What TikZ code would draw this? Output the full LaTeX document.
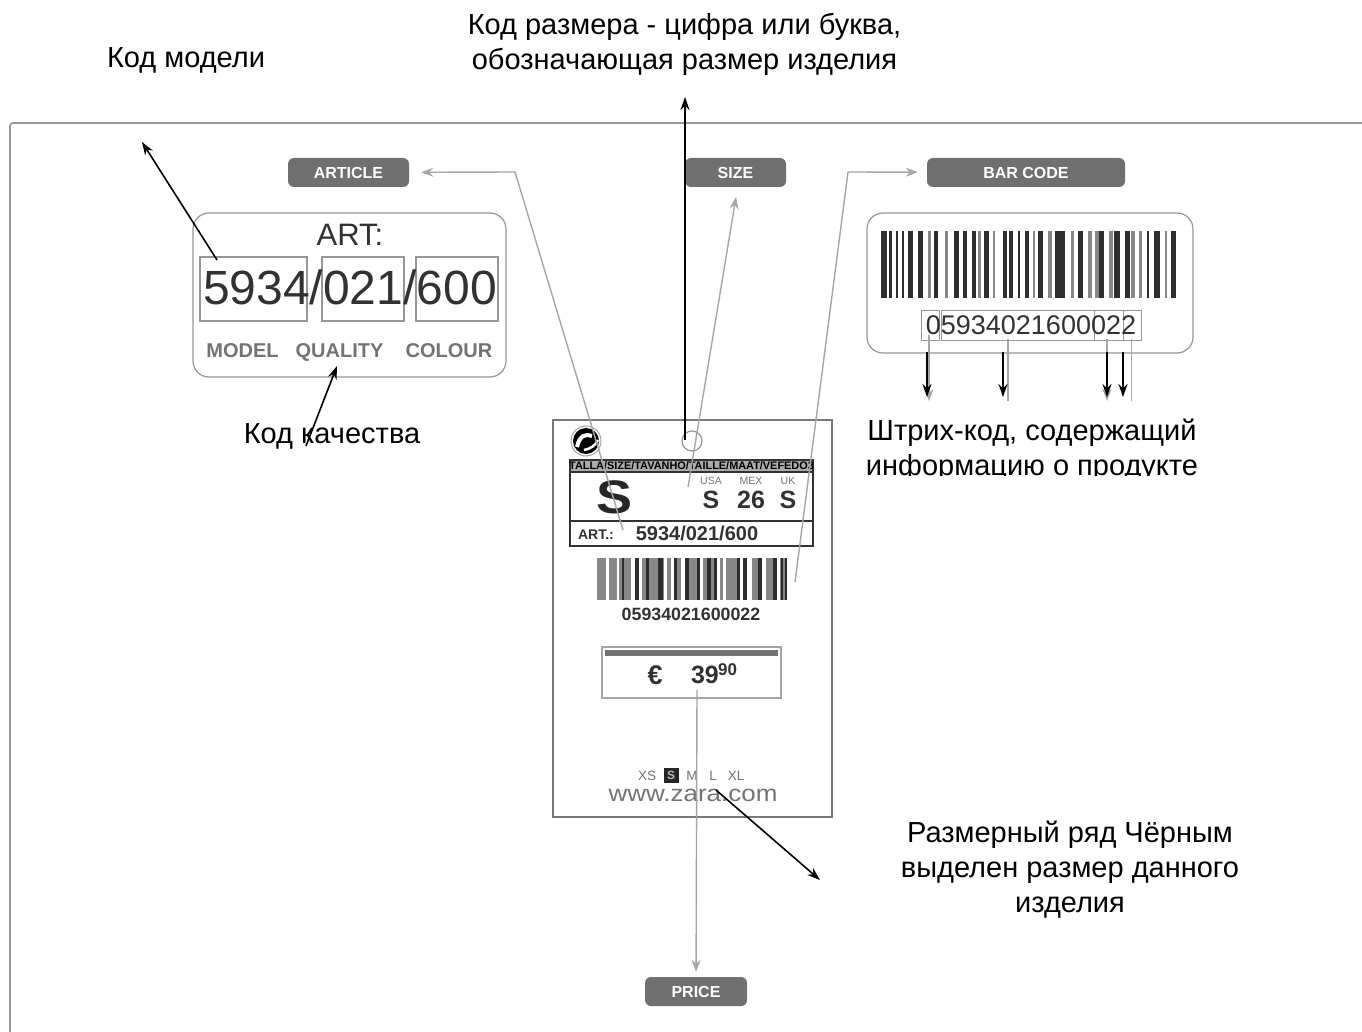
\documentclass[tikz,border=0pt]{standalone}
\usepackage{fontspec}
\setmainfont{Liberation Sans}
\usepackage{xcolor}
\usetikzlibrary{arrows.meta,positioning,calc}
\definecolor{PillGray}{RGB}{112,112,112}
\definecolor{LeadGray}{RGB}{165,165,165}
\definecolor{EdgeGray}{RGB}{150,150,150}
\definecolor{InkGray}{RGB}{50,50,50}
\definecolor{LabelGray}{RGB}{115,115,115}
\definecolor{BarGray}{RGB}{45,45,45}
\definecolor{BarMid}{RGB}{135,135,135}

\begin{document}
\begin{tikzpicture}[
        x=1pt,y=-1pt,
        pill/.style={rounded corners=6pt,fill=PillGray,text=white,
                     font=\fontsize{16}{16}\selectfont\bfseries,
                     minimum height=29pt,inner sep=0pt},
        card/.style={draw=EdgeGray,line width=1.2pt,rounded corners=16pt,fill=white},
        digitbox/.style={draw=EdgeGray,line width=1.2pt},
        lead/.style={draw=LeadGray,line width=1.4pt,-{Stealth[length=12pt,width=9pt]}},
        leadplain/.style={draw=LeadGray,line width=1.4pt},
        note/.style={-{Stealth[length=13pt,width=9pt]},draw=black,line width=1.6pt},
        caption/.style={font=\fontsize{29}{35}\selectfont,align=center,text=black,inner sep=0pt},
        cardlabel/.style={font=\fontsize{20}{20}\selectfont\bfseries,text=LabelGray,inner sep=0pt,anchor=base},
        tagtext/.style={font=\fontsize{#1}{#1}\selectfont\bfseries,text=InkGray,inner sep=0pt},
        sizemark/.style={font=\fontsize{10.5}{11}\selectfont,text=LabelGray,inner sep=0pt},
        rangemark/.style={font=\fontsize{13.5}{14}\selectfont,text=LabelGray,inner sep=0pt}
      ]
        \useasboundingbox (0,0) rectangle (1362,1032);
        % outer frame
        \draw[EdgeGray,line width=1.6pt,rounded corners=3pt] (1362,123) -- (10,123) -- (10,1032);

        % article card
        \node[pill,minimum width=121pt] (article) at (348.5,172.5) {ARTICLE\hspace{6pt}};
        \draw[card] (193,213) rectangle (506,377);
        \node[font=\fontsize{31}{31}\selectfont,text=InkGray,inner sep=0pt] (artTitle) at (350,235) {ART:};
        \draw[digitbox] (200,257) rectangle (307,321);
        \draw[digitbox] (322,257) rectangle (404,321);
        \draw[digitbox] (416,257) rectangle (498,321);
        \node[font=\fontsize{48}{48}\selectfont,text=InkGray,inner sep=0pt] (artCode) at (350,287) {5934/021/600};
        \node[cardlabel] (model) at (242.5,357) {MODEL};
        \node[cardlabel] (quality) at (339.5,357) {QUALITY};
        \node[cardlabel] (colour) at (449,357) {COLOUR};

        % size and bar code pills
        \node[pill,minimum width=101pt] (size) at (735.5,172.5) {SIZE\hspace{8pt}};
        \node[pill,minimum width=198pt] (barcode) at (1026,172.5) {BAR CODE\hspace{14pt}};

        % bar code card
        \draw[card] (867,213) rectangle (1193,353);
        \foreach \a/\b in {881/887,889/892,896/898,902/904,908/913,918/923,934/938,954/959,963/967,
                           972/976,984/989,1003/1007,1009/1013,1018/1020,1025/1029,1038/1043,
                           1055/1065,1078/1083,1099/1104,1114/1120,1125/1130,1147/1149,1154/1160,1171/1176}
          \fill[BarGray] (\a,231) rectangle (\b,298);
        \foreach \a/\b in {928/931,945/948,978/981,993/995,1033/1035,1048/1052,1071/1074,1088/1092,
                           1095/1099,1109/1113,1131/1135,1139/1142,1165/1167}
          \fill[BarMid] (\a,231) rectangle (\b,298);
        \draw[digitbox,line width=1pt] (921,310) rectangle (939,340);
        \draw[digitbox,line width=1pt] (941,310) rectangle (1094,340);
        \draw[digitbox,line width=1pt] (1094,310) rectangle (1123,340);
        \draw[digitbox,line width=1pt] (1123,310) rectangle (1141,340);
        \node[font=\fontsize{27}{27}\selectfont,text=InkGray,inner sep=0pt] (barDigits) at (1031,325) {05934021600022};

        % tag
        \draw[EdgeGray!80!black,line width=2pt] (553,420) rectangle (832,817);
        \fill[black] (586,441) circle (13);
        \draw[LeadGray,line width=1pt] (586,441) circle (15);
        \draw[white,line width=4pt] (577,447) .. controls (579,436) and (586,433) .. (592,436);
        \draw[white,line width=2.5pt] (584,450) .. controls (590,449) and (595,446) .. (598,440);
        \node[draw=EdgeGray,line width=1.2pt,circle,minimum size=20pt,inner sep=0pt] (hole) at (692,441) {};
        \fill[LabelGray!60] (570,460) rectangle (813,472);
        \draw[InkGray,line width=2pt] (570,460) rectangle (813,546);
        \draw[InkGray,line width=2pt] (570,472) -- (813,472);
        \draw[InkGray,line width=2pt] (570,521) -- (813,521);
        \node[font=\fontsize{10.9}{11}\selectfont\bfseries,text=black,inner sep=0pt] (bandText) at (691.5,466) {TALLA/SIZE/TAVANHO/TAILLE/MAAT/VEFEDO3};
        \node[tagtext=47,text=black!85] (bigS) at (615,497) {\scalebox{1.15}[1]{S}};
        \node[sizemark] (usa) at (711,481) {USA};
        \node[sizemark] (mex) at (751,481) {MEX};
        \node[sizemark] (uk) at (788,481) {UK};
        \node[tagtext=25] (sizeUsa) at (711,500) {S};
        \node[tagtext=25] (sizeMex) at (751,500) {26};
        \node[tagtext=25] (sizeUk) at (788,500) {S};
        \node[tagtext=14] (artShort) at (596,535) {ART.:};
        \node[tagtext=20] (artLine) at (697,533) {5934/021/600};
        \foreach \a/\b in {597/606,609/617,619/631,635/639,642/664,667/671,674/681,685/700,703/717,
                           720/723,726/740,752/762,766/777,780/787}
          \fill[BarMid] (\a,558) rectangle (\b,600);
        \foreach \a/\b in {622/624,635/639,646/649,658/663,674/677,685/689,697/700,707/711,714/717,
                           737/740,743/747,758/762,773/777,781/783,785/787}
          \fill[BarGray] (\a,558) rectangle (\b,600);
        \node[tagtext=17.8] (tagDigits) at (691,614) {05934021600022};

        % price box
        \draw[LeadGray,line width=1.5pt] (602,647) rectangle (781,698);
        \fill[LabelGray] (605,650) rectangle (778,656);
        \node[tagtext=27] (euro) at (655,675) {€};
        \node[tagtext=25,anchor=east] (priceMain) at (719,675) {39};
        \node[tagtext=17,anchor=west] (priceSup) at (718,670) {90};

        % size range
        \node[rangemark] (xs) at (647,775.5) {XS};
        \node[fill=black!85,text=LabelGray!50,font=\fontsize{12}{12}\selectfont\bfseries,minimum size=15pt,inner sep=0pt] (small) at (671,775.5) {S};
        \node[rangemark] (medium) at (692,775.5) {M};
        \node[rangemark] (large) at (713,775.5) {L};
        \node[rangemark] (xl) at (736,775.5) {XL};
        \node[font=\fontsize{23}{23}\selectfont,text=LabelGray,inner sep=0pt] (site) at (693,795) {\scalebox{1.13}[1]{www.zara.com}};

        \node[pill,minimum width=102pt] (price) at (696,991.5) {PRICE};

        % grey leaders of the original
        \coordinate (artStart) at (623,530);
        \coordinate (artTurn) at (515,172);
        \coordinate (sizeStart) at (688,487);
        \coordinate (sizeEnd) at (736,197);
        \coordinate (barStart) at (795,582);
        \coordinate (barTurn) at (848,172);
        \coordinate (priceStart) at (697,690);
        \draw[lead,shorten >=12pt] (artStart) -- (artTurn) -- (article);
        \draw[lead] (sizeStart) -- (sizeEnd);
        \draw[lead,shorten >=9pt] (barStart) -- (barTurn) -- (barcode);
        \draw[lead,shorten >=5pt] (priceStart) -- (price);
        \foreach \name/\x/\top in {one/929/335,two/1008/339,three/1107/339,four/1131/339}{
          \coordinate (\name Top) at (\x,\top);
          \coordinate (\name End) at (\x,401);
        }
        \draw[lead] (oneTop) -- (oneEnd);
        \draw[leadplain] (twoTop) -- (twoEnd);
        \draw[lead] (threeTop) -- (threeEnd);
        \draw[leadplain,line width=1pt] (fourTop) -- (fourEnd);

        % black arrows
        \coordinate (modelStart) at (217,260);
        \coordinate (modelEnd) at (142,142);
        \coordinate (sizeNoteStart) at (685,440);
        \coordinate (sizeNoteEnd) at (685,97);
        \coordinate (qualityStart) at (306,446);
        \coordinate (qualityEnd) at (337,366);
        \coordinate (rangeStart) at (716,790);
        \coordinate (rangeEnd) at (820,880);
        \draw[note] (modelStart) -- (modelEnd);
        \draw[note] (sizeNoteStart) -- (sizeNoteEnd);
        \draw[note] (qualityStart) -- (qualityEnd);
        \draw[note] (rangeStart) -- (rangeEnd);
        \foreach \name/\x/\top/\bottom in {a/927/352/397,b/1003/352/397,c/1107/352/397,d/1123/352/397}{
          \coordinate (\name Top) at (\x,\top);
          \coordinate (\name End) at (\x,\bottom);
          \draw[note] (\name Top) -- (\name End);
        }

        % captions
        \node[caption] (modelNote) at (186,60.5) {Код модели};
        \node[caption] (sizeNote) at (684.5,44.5) {Код размера - цифра или буква,\\обозначающая размер изделия};
        \node[caption] (qualityNote) at (332,436.5) {Код качества};
        \node[caption] (barNote) at (1032,450) {Штрих-код, содержащий\\информацию о продукте};
        \fill[white] (860,476) rectangle (1210,490);
        \node[caption] (rangeNote) at (1070,870) {Размерный ряд Чёрным\\выделен размер данного\\изделия};
      \end{tikzpicture}
\end{document}
